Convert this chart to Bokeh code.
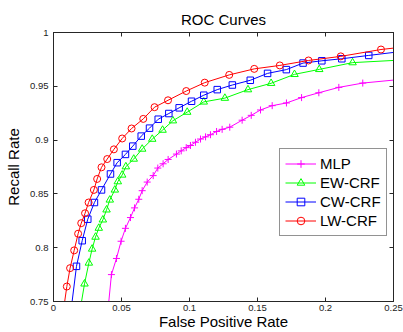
from bokeh.plotting import figure
from bokeh.models import (Range1d, FixedTicker, LinearAxis, Legend, LegendItem,
                          CustomJSTickFormatter)
from bokeh.embed import file_html
from bokeh.resources import INLINE

# ---- data ----
x_ticks = [0, 0.05, 0.1, 0.15, 0.2, 0.25]
x_tick_labels = ["0", "0.05", "0.1", "0.15", "0.2", "0.25"]
y_ticks = [0.75, 0.8, 0.85, 0.9, 0.95, 1.0]
y_tick_labels = ["0.75", "0.8", "0.85", "0.9", "0.95", "1"]

series_names = ["MLP", "EW-CRF", "CW-CRF", "LW-CRF"]

mlp_fpr = [0.0399, 0.0426, 0.0463, 0.0497, 0.0529, 0.0566, 0.0596, 0.0627, 0.0652,
           0.0689, 0.0733, 0.0767, 0.0806, 0.0843, 0.0904, 0.0939, 0.0976, 0.1007,
           0.1044, 0.1081, 0.1118, 0.1154, 0.1199, 0.1240, 0.1296, 0.1387, 0.1454,
           0.1522, 0.1608, 0.1713, 0.1824, 0.1951, 0.2098, 0.2274, 0.2600]
mlp_recall = [0.740, 0.775, 0.790, 0.806, 0.818, 0.828, 0.837, 0.845, 0.853,
              0.861, 0.867, 0.874, 0.878, 0.882, 0.887, 0.890, 0.893, 0.895,
              0.898, 0.901, 0.903, 0.905, 0.908, 0.910, 0.912, 0.9185, 0.923,
              0.928, 0.932, 0.9345, 0.9395, 0.944, 0.949, 0.953, 0.957]

ew_fpr = [0.0193, 0.0228, 0.0260, 0.0284, 0.0309, 0.0333, 0.0363, 0.0390, 0.0414,
          0.0451, 0.0473, 0.0505, 0.0532, 0.0590, 0.0652, 0.0726, 0.0802, 0.0878,
          0.0983, 0.1105, 0.1260, 0.1430, 0.1600, 0.1772, 0.1954, 0.2199, 0.2600]
ew_recall = [0.740, 0.7664, 0.7858, 0.7988, 0.8099, 0.8182, 0.8259, 0.8352, 0.8444,
             0.8537, 0.8614, 0.8676, 0.8753, 0.8824, 0.8917, 0.9009, 0.9093, 0.9180,
             0.9260, 0.9355, 0.9390, 0.9469, 0.9528, 0.9611, 0.9657, 0.9720, 0.9747]

cw_fpr = [0.0127, 0.0169, 0.0211, 0.0252, 0.0301, 0.0353, 0.0419, 0.0468, 0.0529,
          0.0583, 0.0645, 0.0706, 0.0770, 0.0848, 0.0924, 0.1015, 0.1105, 0.1204,
          0.1315, 0.1447, 0.1574, 0.1712, 0.1835, 0.1973, 0.2120, 0.2318, 0.2600]
cw_recall = [0.740, 0.7827, 0.8065, 0.8265, 0.8420, 0.8537, 0.8685, 0.8790, 0.8867,
             0.8944, 0.9037, 0.9111, 0.9194, 0.9247, 0.9300, 0.9361, 0.9417, 0.9469,
             0.9512, 0.9556, 0.9620, 0.9655, 0.9716, 0.9737, 0.9756, 0.9787, 0.9830]

lw_fpr = [0.0071, 0.0098, 0.0122, 0.0152, 0.0181, 0.0204, 0.0232, 0.0258, 0.0297,
          0.0321, 0.0353, 0.0395, 0.0444, 0.0505, 0.0574, 0.0660, 0.0743, 0.0842,
          0.0976, 0.1112, 0.1292, 0.1476, 0.1664, 0.1875, 0.2112, 0.2408, 0.2600]
lw_recall = [0.740, 0.7639, 0.7810, 0.7975, 0.8130, 0.8228, 0.8320, 0.8420, 0.8537,
             0.8639, 0.8747, 0.8824, 0.8914, 0.9015, 0.9108, 0.9197, 0.9306, 0.9370,
             0.9456, 0.9534, 0.9606, 0.9662, 0.9694, 0.9740, 0.9778, 0.9842, 0.9869]

FONT = "Liberation Sans"
AXIS_COLOR = "#262626"

p = figure(width=403, height=332, output_backend="svg", toolbar_location=None,
           x_range=Range1d(0, 0.25), y_range=Range1d(0.75, 1.0),
           min_border_left=53, min_border_right=10, min_border_top=32,
           min_border_bottom=30, title="ROC Curves")
p.background_fill_color = "white"
p.border_fill_color = "white"
p.outline_line_color = AXIS_COLOR
p.xgrid.visible = False
p.ygrid.visible = False

p.title.text_font = FONT
p.title.text_font_size = "15px"
p.title.text_font_style = "normal"
p.title.text_color = "black"
p.title.align = "center"
p.title.standoff = 10


def label_formatter(tvals, tlabels):
    return CustomJSTickFormatter(args=dict(tvals=tvals, tlabels=tlabels), code="""
        let best = 0;
        for (let i = 0; i < tvals.length; i++) {
            if (Math.abs(tvals[i] - tick) < Math.abs(tvals[best] - tick)) best = i;
        }
        return tlabels[best];
    """)


def style_axis(ax):
    ax.major_tick_in = 4
    ax.major_tick_out = 0
    ax.minor_tick_in = 0
    ax.minor_tick_out = 0
    ax.axis_line_color = AXIS_COLOR
    ax.major_tick_line_color = AXIS_COLOR
    ax.major_label_text_font = FONT
    ax.major_label_text_font_size = "9.5px"
    ax.major_label_text_color = "#222222"


xa = p.xaxis[0]
xa.ticker = FixedTicker(ticks=x_ticks)
xa.formatter = label_formatter(x_ticks, x_tick_labels)
style_axis(xa)
xa.major_label_standoff = 3
xa.axis_label = "False Positive Rate"
xa.axis_label_text_font = FONT
xa.axis_label_text_font_size = "15px"
xa.axis_label_text_font_style = "normal"
xa.axis_label_text_color = "black"
xa.axis_label_standoff = -1

ya = p.yaxis[0]
ya.ticker = FixedTicker(ticks=y_ticks)
ya.formatter = label_formatter(y_ticks, y_tick_labels)
style_axis(ya)
ya.major_label_standoff = 5
ya.axis_label = "Recall Rate"
ya.axis_label_text_font = FONT
ya.axis_label_text_font_size = "15px"
ya.axis_label_text_font_style = "normal"
ya.axis_label_text_color = "black"
ya.axis_label_standoff = 5

# box ticks on top and right (no labels)
for place, tks in (("above", x_ticks), ("right", y_ticks)):
    ax = LinearAxis(ticker=FixedTicker(ticks=tks),
                    formatter=CustomJSTickFormatter(code="return ''"))
    style_axis(ax)
    ax.major_label_text_font_size = "0px"
    ax.major_label_standoff = 0
    p.add_layout(ax, place)

styles = [
    (mlp_fpr, mlp_recall, "#ff00ff", "cross", 7),
    (ew_fpr, ew_recall, "#00ff00", "triangle", 7.5),
    (cw_fpr, cw_recall, "#0000ff", "square", 6.5),
    (lw_fpr, lw_recall, "#ff0000", "circle", 7),
]

items = []
for name, (xs, ys, color, marker, size) in zip(series_names, styles):
    ln = p.line(xs, ys, line_color=color, line_width=1)
    sc = p.scatter(xs, ys, marker=marker, size=size, line_color=color,
                   fill_color=None, line_width=1)
    items.append(LegendItem(label=name, renderers=[ln, sc]))

legend = Legend(items=items, location=(226, 65))
legend.border_line_color = AXIS_COLOR
legend.border_line_width = 1
legend.background_fill_color = "white"
legend.background_fill_alpha = 1
legend.padding = 5
legend.spacing = 0
legend.margin = 0
legend.glyph_width = 31
legend.glyph_height = 19
legend.label_height = 19
legend.label_standoff = 4
legend.label_text_font = FONT
legend.label_text_font_size = "15px"
legend.label_text_color = "black"
p.add_layout(legend)

open("out.html", "w").write(file_html(p, INLINE))
